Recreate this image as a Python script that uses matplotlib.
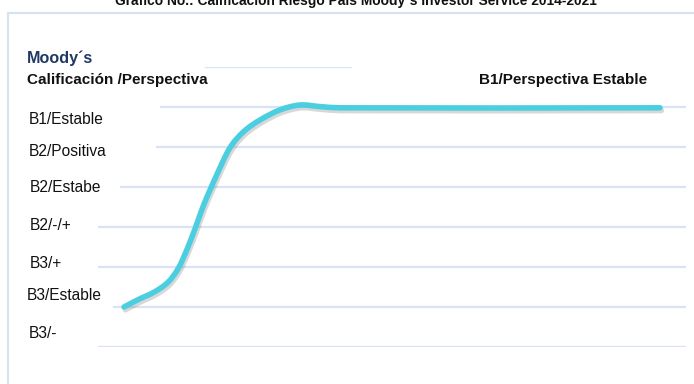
import matplotlib.pyplot as plt
import matplotlib.patheffects as pe
from matplotlib.patches import Rectangle, PathPatch
from matplotlib.path import Path

# rating scale labels (bottom to top) and the traced curve
rating_labels = ["B3/-", "B3/Estable", "B3/+", "B2/-/+", "B2/Estabe", "B2/Positiva", "B1/Estable"]
years = [2014.0, 2014.19, 2014.40, 2014.58, 2014.71, 2014.82, 2014.93, 2015.04, 2015.21,
         2015.38, 2015.56, 2015.78, 2016.04, 2016.30, 2016.56, 2016.82, 2021.0]
rating = [1.0, 1.19, 1.38, 1.63, 1.97, 2.43, 2.97, 3.55, 4.30,
          4.97, 5.38, 5.68, 5.93, 6.05, 6.01, 5.98, 5.98]

title = "Gráfico No.: Calificación Riesgo País Moody´s Investor Service 2014-2021"
last_label = "B1/Perspectiva Estable"

plt.rcParams["font.family"] = ["Liberation Sans", "DejaVu Sans"]

W, H = 694, 384
fig = plt.figure(figsize=(W / 100, H / 100), dpi=100)


def fx(px):
    return px / W


def fy(py):
    return 1 - py / H


# light blue frame
fig.patches.append(Rectangle((fx(8), fy(400)), fx(700), fy(13) - fy(400), transform=fig.transFigure,
                             fill=False, edgecolor="#d5e2f1", linewidth=1.5))

ax = fig.add_axes([fx(98), fy(347), fx(686) - fx(98), fy(67) - fy(347)])
ax.set_xlim(2013.66, 2021.34)
ax.set_ylim(0, 7)
ax.axis("off")

# gridlines (left ends hidden behind the label boxes)
grid_start = [0.0, 0.027, 0.0, 0.0, 0.039, 0.100, 0.107]
for lvl, start in enumerate(grid_start):
    ax.axhline(lvl, xmin=start, xmax=1.0, color="#d9e3f3", linewidth=1.6, zorder=1)
ax.axhline(7, xmin=0.184, xmax=0.43, color="#d9e3f3", linewidth=1.6, zorder=1)

# smoothed line: bezier segments through the points (slopes from neighbours)
n = len(years)
slopes = []
for i in range(n):
    a = max(i - 1, 0)
    b = min(i + 1, n - 1)
    slopes.append((rating[b] - rating[a]) / (years[b] - years[a]))
slopes[-1] = 0.0

verts = [(years[0], rating[0])]
codes = [Path.MOVETO]
for i in range(n - 1):
    dx = (years[i + 1] - years[i]) / 3
    verts += [(years[i] + dx, rating[i] + slopes[i] * dx),
              (years[i + 1] - dx, rating[i + 1] - slopes[i + 1] * dx),
              (years[i + 1], rating[i + 1])]
    codes += [Path.CURVE4] * 3

curve = PathPatch(Path(verts, codes), fill=False, edgecolor="#4bcfe0", linewidth=4,
                  capstyle="round", joinstyle="round", zorder=3,
                  path_effects=[pe.SimpleLineShadow(offset=(1, -2), shadow_color="#666666", alpha=0.25),
                                pe.Normal()])
ax.add_patch(curve)

# rating labels at the left
label_y = [333, 296, 263, 226, 188, 152, 119]
label_x = [29, 27, 30, 30, 30, 29, 29]
for lab, lx, ly in zip(rating_labels, label_x, label_y):
    fig.text(fx(lx), fy(ly), lab, fontsize=11.2, va="center", ha="left", color="#111111")

fig.text(fx(27), fy(58), "Moody´s", fontsize=11.6, fontweight="bold", color="#1f3864",
         va="center", ha="left")
fig.text(fx(27), fy(80), "Calificación /Perspectiva", fontsize=11, fontweight="bold",
         color="#111111", va="center", ha="left")
fig.text(fx(479), fy(80), last_label, fontsize=11, fontweight="bold",
         color="#111111", va="center", ha="left")

fig.text(fx(356), fy(5), title, fontsize=9.9, fontweight="bold", color="#111111",
         va="baseline", ha="center")

fig.savefig("out.png", dpi=100)
